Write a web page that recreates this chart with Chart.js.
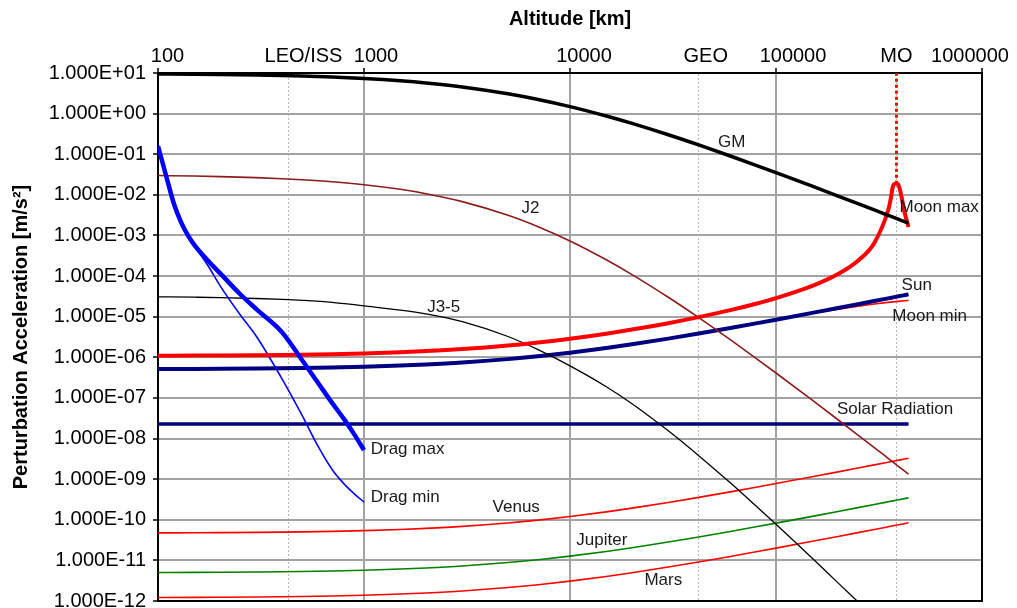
<!DOCTYPE html>
<html>
<head>
<meta charset="utf-8">
<script src="https://cdn.jsdelivr.net/npm/chart.js@4.4.1/dist/chart.umd.min.js"></script>
<style>
  html, body { margin: 0; padding: 0; background: #ffffff; }
  #wrap { width: 1017px; height: 608px; }
</style>
</head>
<body>
<div id="wrap"><canvas id="chart" width="1017" height="608"></canvas></div>
<script>
// Altitude grid (km) shared by the orbital perturbation series
const altitudeKm = [100, 150, 200, 300, 400, 500, 700, 1000, 1500, 2000, 3000, 5000, 7000, 10000,
  15000, 20000, 30000, 42164, 60000, 80000, 100000, 150000, 200000, 250000, 300000, 350000,
  370000, 400000, 410000, 420000, 440000];

// Accelerations in m/s^2
const gm = [9.499, 9.354, 9.212, 8.938, 8.676, 8.426, 7.956, 7.323, 6.423, 5.679, 4.532, 3.079, 2.227,
  1.486, 0.8722, 0.5729, 0.3012, 0.1692, 0.09047, 0.05342, 0.03522, 0.0163, 0.009359, 0.006064,
  0.004246, 0.003138, 0.002814, 0.002414, 0.002299, 0.002193, 0.002];

const j2 = [0.02991, 0.029, 0.02813, 0.02648, 0.02495, 0.02353, 0.02098, 0.01777, 0.01367, 0.01069,
  0.006808, 0.003142, 0.001644, 7.319e-4, 2.521e-4, 1.088e-4, 3.007e-5, 9.487e-6, 2.713e-6, 9.459e-7,
  4.112e-7, 8.806e-8, 2.903e-8, 1.219e-8, 5.976e-9, 3.264e-9, 2.624e-9, 1.931e-9, 1.752e-9,
  1.594e-9, 1.326e-9];

const j35 = [3.09e-5, 3.02e-5, 2.955e-5, 2.807e-5, 2.668e-5, 2.534e-5, 2.263e-5, 1.845e-5, 1.454e-5,
  1.172e-5, 7.57e-6, 3.253e-6, 1.539e-6, 6.14e-7, 1.887e-7, 7.2e-8, 1.547e-8, 3.79e-9, 8.11e-10,
  2.175e-10, 7.75e-11, 1.126e-11, 2.79e-12, 9.56e-13, null, null, null, null, null, null, null];

const moonMin = [5.322e-7, 5.3635e-7, 5.4046e-7, 5.4868e-7, 5.569e-7, 5.651e-7, 5.8152e-7,
  6.0618e-7, 6.4728e-7, 6.8834e-7, 7.705e-7, 9.348e-7, 1.0992e-6, 1.3448e-6, 1.7545e-6,
  2.1635e-6, 2.9792e-6, 3.9646e-6, 5.3953e-6, 6.9689e-6, 8.5032e-6, 1.2118e-5, 1.535e-5,
  1.8153e-5, 2.0528e-5, 2.2505e-5, 2.3193e-5, 2.4129e-5, 2.4417e-5, 2.4693e-5, 2.5213e-5];

const sun = [5.135e-7, 5.175e-7, 5.214e-7, 5.294e-7, 5.373e-7, 5.452e-7, 5.611e-7, 5.849e-7,
  6.245e-7, 6.641e-7, 7.434e-7, 9.019e-7, 1.0605e-6, 1.2983e-6, 1.6946e-6, 2.091e-6, 2.8837e-6,
  3.8479e-6, 5.2618e-6, 6.8472e-6, 8.4326e-6, 1.2396e-5, 1.636e-5, 2.0323e-5, 2.4287e-5,
  2.825e-5, 2.9836e-5, 3.2214e-5, 3.3006e-5, 3.3799e-5, 3.5384e-5];

const solarRadiation = [2.28e-8, 2.28e-8, 2.28e-8, 2.28e-8, 2.28e-8, 2.28e-8, 2.28e-8, 2.28e-8,
  2.28e-8, 2.28e-8, 2.28e-8, 2.28e-8, 2.28e-8, 2.28e-8, 2.28e-8, 2.28e-8, 2.28e-8, 2.28e-8,
  2.28e-8, 2.28e-8, 2.28e-8, 2.28e-8, 2.28e-8, 2.28e-8, 2.28e-8, 2.28e-8, 2.28e-8, 2.28e-8,
  2.28e-8, 2.28e-8, 2.28e-8];

const venus = [4.75e-11, 4.787e-11, 4.824e-11, 4.897e-11, 4.97e-11, 5.044e-11, 5.19e-11, 5.41e-11,
  5.777e-11, 6.144e-11, 6.877e-11, 8.344e-11, 9.81e-11, 1.201e-10, 1.5677e-10, 1.9343e-10,
  2.6676e-10, 3.5596e-10, 4.8675e-10, 6.3341e-10, 7.8007e-10, 1.1467e-9, 1.5134e-9, 1.88e-9,
  2.2467e-9, 2.6133e-9, 2.76e-9, 2.98e-9, 3.0533e-9, 3.1266e-9, 3.2733e-9];

const jupiter = [5.03e-12, 5.069e-12, 5.108e-12, 5.185e-12, 5.263e-12, 5.341e-12, 5.496e-12,
  5.729e-12, 6.117e-12, 6.506e-12, 7.282e-12, 8.835e-12, 1.0388e-11, 1.2718e-11, 1.66e-11,
  2.0483e-11, 2.8247e-11, 3.7693e-11, 5.1543e-11, 6.7073e-11, 8.2603e-11, 1.2143e-10,
  1.6025e-10, 1.9908e-10, 2.379e-10, 2.7673e-10, 2.9226e-10, 3.1555e-10, 3.2332e-10,
  3.3108e-10, 3.4661e-10];

const mars = [1.22e-12, 1.229e-12, 1.239e-12, 1.258e-12, 1.277e-12, 1.295e-12, 1.333e-12, 1.39e-12,
  1.484e-12, 1.578e-12, 1.766e-12, 2.143e-12, 2.52e-12, 3.085e-12, 4.026e-12, 4.968e-12,
  6.851e-12, 9.142e-12, 1.2501e-11, 1.6268e-11, 2.0034e-11, 2.9451e-11, 3.8867e-11, 4.8284e-11,
  5.77e-11, 6.7117e-11, 7.0883e-11, 7.6533e-11, 7.8417e-11, 8.03e-11, 8.4067e-11];

// Lunar tide (maximum), sampled more finely around the Moon's orbit
const moonMaxAltitudeKm = [100, 150, 200, 300, 400, 500, 700, 1000, 1500, 2000, 3000, 5000, 7000,
  10000, 15000, 20000, 30000, 42164, 60000, 80000, 100000, 150000, 200000, 250000, 300000, 350000,
  360000, 370000, 380000, 390000, 400000, 410000, 420000, 440000];
const moonMax = [1.0915e-6, 1.1002e-6, 1.1088e-6, 1.1261e-6, 1.1435e-6, 1.1608e-6, 1.1954e-6,
  1.2476e-6, 1.3348e-6, 1.4222e-6, 1.5983e-6, 1.9546e-6, 2.3166e-6, 2.8704e-6, 3.8237e-6,
  4.8166e-6, 6.9296e-6, 9.754e-6, 1.4483e-5, 2.0808e-5, 2.8512e-5, 5.713e-5, 1.1208e-4,
  2.3933e-4, 6.562e-4, 4.111e-3, 7.6e-3, 0.0165, 0.0188, 0.0188, 0.0131, 7.4e-3, 3.9e-3, 1.618e-3];

// Atmospheric drag, low altitudes only
const dragAltitudeKm = [100, 110, 120, 130, 140, 150, 175, 200, 250, 300, 400, 500, 600, 700, 800, 900, 1000];
const dragMax = [0.159, 0.027, 5.6e-3, 2.02e-3, 9.9e-4, 5.86e-4, 2.38e-4, 1.18e-4, 3.62e-5, 1.54e-5,
  4.15e-6, 8.57e-7, 2.29e-7, 7.54e-8, 3.0e-8, 1.23e-8, 5.18e-9];
const dragMin = [0.159, 0.027, 5.6e-3, 2.0e-3, 9.7e-4, 5.6e-4, 1.79e-4, 5.83e-5, 1.13e-5, 3.29e-6,
  2.94e-7, 3.75e-8, 6.3e-9, 1.73e-9, 7.66e-10, 4.3e-10, 2.71e-10];

// Lunar orbit marker (vertical dotted segment)
const moonOrbitKm = [384400, 384400];
const moonOrbitAccel = [0.0188, 10];

// Axis ticks
const altitudeTicks = [100, 430, 1000, 10000, 42164, 100000, 384400, 1000000];
const altitudeTickLabels = ['100', 'LEO/ISS', '1000', '10000', 'GEO', '100000', 'MO', '1000000'];
const referenceAltitudes = [430, 42164, 384400];
const accelTicks = [1e-12, 1e-11, 1e-10, 1e-9, 1e-8, 1e-7, 1e-6, 1e-5, 1e-4, 1e-3, 1e-2, 1e-1, 1, 10];
const accelTickLabels = ['1.000E-12', '1.000E-11', '1.000E-10', '1.000E-09', '1.000E-08', '1.000E-07',
  '1.000E-06', '1.000E-05', '1.000E-04', '1.000E-03', '1.000E-02', '1.000E-01', '1.000E+00', '1.000E+01'];

// Curve names placed next to their lines (data coordinates)
const curveNames = ['GM', 'J2', 'J3-5', 'Drag max', 'Drag min', 'Venus', 'Jupiter', 'Mars',
  'Solar Radiation', 'Sun', 'Moon min', 'Moon max'];
const curveNameAltitude = [60950, 6433, 2437, 1078, 1078, 5481, 14270, 28380, 378200, 482000, 557300, 619600];
const curveNameAccel = [0.194, 4.64e-3, 1.75e-5, 5.48e-9, 3.66e-10, 1.99e-10, 3.15e-11, 3.25e-12,
  5.24e-8, 6.0e-5, 9.95e-6, 4.86e-3];
const curveNameAlign = ['center', 'center', 'center', 'left', 'left', 'center', 'center', 'center',
  'center', 'center', 'center', 'center'];

// Horizontal nudges for the altitude labels (px)
const altitudeLabelShift = [9.5, 15, 12, 14, 7, 17, 0, -12];

const FONT = "'Liberation Sans', Arial, Helvetica, sans-serif";

function points(xs, ys) {
  const out = [];
  for (let i = 0; i < xs.length; i++) {
    if (ys[i] !== null && ys[i] !== undefined) out.push({ x: xs[i], y: ys[i] });
  }
  return out;
}

function line(label, xs, ys, color, width, order, extra) {
  return Object.assign({
    label: label,
    data: points(xs, ys),
    borderColor: color,
    backgroundColor: color,
    borderWidth: width,
    pointRadius: 0,
    pointHoverRadius: 0,
    fill: false,
    cubicInterpolationMode: 'monotone',
    spanGaps: true,
    order: order
  }, extra || {});
}

const datasets = [
  line('GM', altitudeKm, gm, '#000000', 3.5, 2),
  line('J2', altitudeKm, j2, '#8c1c1c', 1.6, 5),
  line('J3-5', altitudeKm, j35, '#000000', 1.3, 4),
  line('Drag max', dragAltitudeKm, dragMax, '#0000ff', 4.5, 1),
  line('Drag min', dragAltitudeKm, dragMin, '#0000ff', 1.6, 3),
  line('Moon max', moonMaxAltitudeKm, moonMax, '#ff0000', 4, 2),
  line('Moon min', altitudeKm, moonMin, '#ff0000', 1.6, 8),
  line('Sun', altitudeKm, sun, '#000080', 4, 6),
  line('Solar Radiation', altitudeKm, solarRadiation, '#000080', 3.5, 6),
  line('Venus', altitudeKm, venus, '#ff0000', 1.6, 7),
  line('Jupiter', altitudeKm, jupiter, '#008000', 1.6, 7),
  line('Mars', altitudeKm, mars, '#ff0000', 1.6, 7),
  line('MO', moonOrbitKm, moonOrbitAccel, '#ff0000', 3, 2,
    { borderDash: [3, 3], cubicInterpolationMode: 'default', tension: 0 })
];

const isReference = (c) => !!(c && c.tick && referenceAltitudes.includes(c.tick.value));

const decorations = {
  id: 'decorations',
  beforeDatasetsDraw(chart) {
    const { ctx, chartArea: a } = chart;
    ctx.save();
    ctx.strokeStyle = '#000000';
    ctx.lineWidth = 2;
    ctx.beginPath();
    ctx.moveTo(a.right, a.top);
    ctx.lineTo(a.right, a.bottom);
    ctx.lineTo(a.left, a.bottom);
    ctx.stroke();
    ctx.restore();
  },
  afterDatasetsDraw(chart) {
    const { ctx } = chart;
    const xs = chart.scales.x, ys = chart.scales.y;
    ctx.save();
    ctx.fillStyle = '#1a1a1a';
    ctx.font = '17px ' + FONT;
    ctx.textBaseline = 'middle';
    for (let i = 0; i < curveNames.length; i++) {
      ctx.textAlign = curveNameAlign[i];
      ctx.fillText(curveNames[i], xs.getPixelForValue(curveNameAltitude[i]), ys.getPixelForValue(curveNameAccel[i]));
    }
    ctx.restore();
  },
  afterDraw(chart) {
    const { ctx } = chart;
    const xs = chart.scales.x;
    ctx.save();
    ctx.fillStyle = '#000000';
    ctx.font = '20px ' + FONT;
    ctx.textAlign = 'center';
    ctx.textBaseline = 'middle';
    for (let i = 0; i < altitudeTicks.length; i++) {
      ctx.fillText(altitudeTickLabels[i], xs.getPixelForValue(altitudeTicks[i]) + altitudeLabelShift[i], 56);
    }
    ctx.restore();
  }
};

new Chart(document.getElementById('chart'), {
  type: 'line',
  data: { datasets: datasets },
  options: {
    responsive: false,
    animation: false,
    devicePixelRatio: 1,
    layout: { padding: { left: 0, top: 0, right: 35, bottom: 7 } },
    plugins: {
      legend: { display: false },
      tooltip: { enabled: false }
    },
    scales: {
      x: {
        type: 'logarithmic',
        position: 'top',
        min: 100,
        max: 1000000,
        afterBuildTicks: (s) => { s.ticks = altitudeTicks.map((v) => ({ value: v })); },
        afterFit: (s) => { s.height = 73; s.paddingLeft = 0; s.paddingRight = 0; },
        ticks: { display: false, autoSkip: false },
        grid: {
          color: (c) => isReference(c) ? '#b8b8b8' : '#a3a3a3',
          lineWidth: (c) => isReference(c) ? 1 : 2,
          drawTicks: true,
          tickLength: 5,
          tickWidth: 1.5,
          tickColor: (c) => isReference(c) ? 'rgba(0,0,0,0)' : '#000000'
        },
        border: {
          display: true,
          color: '#000000',
          width: 2,
          dash: (c) => isReference(c) ? [2, 2] : []
        },
        title: {
          display: true,
          text: 'Altitude [km]',
          color: '#000000',
          font: { family: FONT, size: 20, weight: 'bold' },
          padding: { top: 7, bottom: 0 }
        }
      },
      y: {
        type: 'logarithmic',
        min: 1e-12,
        max: 10,
        afterBuildTicks: (s) => { s.ticks = accelTicks.map((v) => ({ value: v })); },
        afterFit: (s) => { s.width = 158; s.paddingTop = 0; s.paddingBottom = 0; },
        ticks: {
          autoSkip: false,
          padding: 7,
          color: '#000000',
          font: { family: FONT, size: 20 },
          callback: (v, i) => accelTickLabels[i]
        },
        grid: {
          color: '#a3a3a3',
          lineWidth: 2,
          drawTicks: true,
          tickLength: 5,
          tickWidth: 1.5,
          tickColor: '#000000'
        },
        border: { display: true, color: '#000000', width: 2 },
        title: {
          display: true,
          text: 'Perturbation Acceleration [m/s²]',
          color: '#000000',
          font: { family: FONT, size: 20, weight: 'bold' },
          padding: { top: 9, bottom: 0 }
        }
      }
    }
  },
  plugins: [decorations]
});
</script>
</body>
</html>
